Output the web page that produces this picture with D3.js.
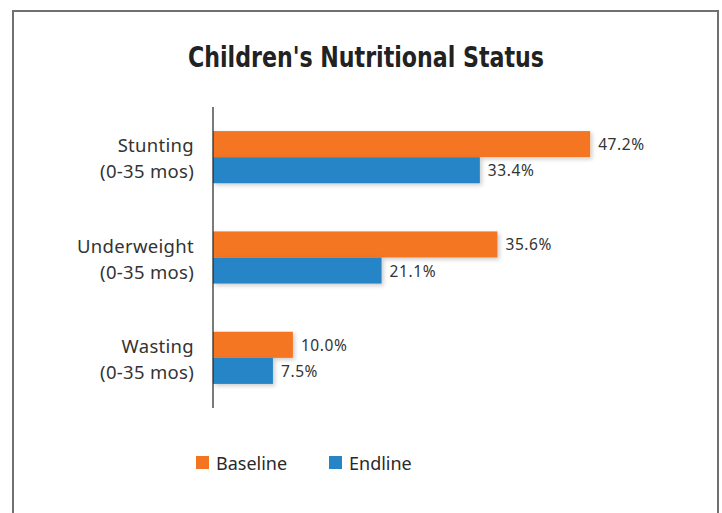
<!DOCTYPE html>
<html>
<head>
<meta charset="utf-8">
<script src="https://d3js.org/d3.v7.min.js"></script>
<style>
    body { margin: 0; background: #fff; }
    .cat { font-family: "Noto Sans", sans-serif; font-size: 18.5px; letter-spacing: 0.3px; fill: #333; }
    .val { font-family: "Noto Sans", sans-serif; font-size: 15.5px; letter-spacing: 0.6px; fill: #333; }
    .leg { font-family: "Noto Sans", sans-serif; font-size: 18px; fill: #2a2a2a; }
</style>
</head>
<body>
<svg id="chart" width="722" height="513"></svg>
<script>
    // data
    const categories = ["Stunting", "Underweight", "Wasting"];
    const subLabel = "(0-35 mos)";
    const seriesNames = ["Baseline", "Endline"];
    const baseline = [47.2, 35.6, 10.0];
    const endline = [33.4, 21.1, 7.5];
    const colors = ["#F47521", "#2585C7"];

    const svg = d3.select("#chart");

    // frame
    svg.append("rect")
        .attr("x", 13).attr("y", 11)
        .attr("width", 705).attr("height", 520)
        .attr("fill", "none")
        .attr("stroke", "#707070")
        .attr("stroke-width", 2);

    svg.append("text")
        .attr("x", 366).attr("y", 67)
        .attr("text-anchor", "middle")
        .attr("font-family", "'Liberation Sans Narrow', 'DejaVu Sans Condensed', sans-serif")
        .attr("font-weight", "bold")
        .attr("font-size", 28)
        .attr("textLength", 356)
        .attr("lengthAdjust", "spacingAndGlyphs")
        .attr("fill", "#222")
        .text("Children's Nutritional Status");

    const defs = svg.append("defs");
    defs.append("filter").attr("id", "shadow")
        .attr("x", "-10%").attr("y", "-20%").attr("width", "130%").attr("height", "160%")
        .append("feDropShadow")
        .attr("dx", 2).attr("dy", 2).attr("stdDeviation", 2)
        .attr("flood-color", "#000").attr("flood-opacity", 0.2);

    const x = d3.scaleLinear().domain([0, 50]).range([213, 612.5]);
    const y = d3.scaleBand().domain(categories).range([107, 408])
        .paddingInner(0.48).paddingOuter(0.24);
    const ySub = d3.scaleBand().domain(seriesNames).range([0, y.bandwidth()]);

    const rows = categories.map((c, i) => ({
        cat: c,
        vals: [{ s: "Baseline", v: baseline[i] }, { s: "Endline", v: endline[i] }]
    }));

    const color = d3.scaleOrdinal().domain(seriesNames).range(colors);

    const g = svg.selectAll("g.grp").data(rows).join("g")
        .attr("class", "grp")
        .attr("transform", d => "translate(0," + y(d.cat) + ")");

    g.selectAll("rect").data(d => d.vals).join("rect")
        .attr("x", x(0))
        .attr("y", d => ySub(d.s))
        .attr("width", d => x(d.v) - x(0))
        .attr("height", ySub.bandwidth())
        .attr("fill", d => color(d.s))
        .attr("filter", "url(#shadow)");

    g.selectAll("text.val").data(d => d.vals).join("text")
        .attr("class", "val")
        .attr("x", d => x(d.v) + 8)
        .attr("y", d => ySub(d.s) + ySub.bandwidth() / 2 + 6)
        .text(d => d.v.toFixed(1) + "%");

    // category labels
    const lab = svg.selectAll("text.cat").data(categories).join("text")
        .attr("class", "cat")
        .attr("text-anchor", "end")
        .attr("x", 194)
        .attr("y", d => y(d) + y.bandwidth() / 2 - 5);
    lab.append("tspan").attr("x", 194).text(d => d);
    lab.append("tspan").attr("x", 194).attr("dy", 26).text(subLabel);

    // axis line
    svg.append("line")
        .attr("x1", x(0)).attr("x2", x(0))
        .attr("y1", 107).attr("y2", 408)
        .attr("stroke", "#222").attr("stroke-width", 1.2);

    // legend
    const legX = [196, 329];
    const leg = svg.selectAll("g.leg").data(seriesNames).join("g")
        .attr("class", "leg")
        .attr("transform", (d, i) => "translate(" + legX[i] + ",456)");
    leg.append("rect")
        .attr("width", 13).attr("height", 13)
        .attr("fill", d => color(d));
    leg.append("text")
        .attr("class", "leg")
        .attr("x", 20).attr("y", 13.5)
        .text(d => d);
</script>
</body>
</html>
